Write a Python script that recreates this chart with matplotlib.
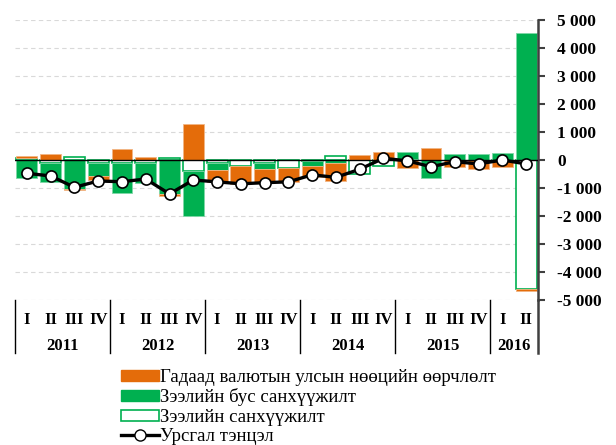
import matplotlib
matplotlib.use('Agg')
import matplotlib.pyplot as plt
from matplotlib.patches import Patch
from matplotlib.lines import Line2D
import numpy as np

plt.rcParams['font.family'] = ['Liberation Serif', 'DejaVu Serif']

# quarterly data, 2011 Q1 - 2016 Q2 (mln. USD)
quarters = ['I', 'II', 'III', 'IV'] * 5 + ['I', 'II']
years = ['2011', '2012', '2013', '2014', '2015', '2016']
year_len = [4, 4, 4, 4, 4, 2]

loan_fin = [60, -90, 95, -120, -100, -100, 60, -390,
            -90, -200, -90, -300, -20, 140, -500, -230,
            30, 0, 0, 0, -20, -4620]
nonloan_fin = [-640, -690, -1050, -450, -1070, -720, -1230, -1610,
               -250, 0, -230, 0, -180, -120, 0, 0,
               270, -655, 215, 200, 260, 4520]
reserve_chg = [70, 200, -25, -150, 380, 120, -50, 1275,
               -450, -640, -500, -500, -400, -630, 180, 300,
               -300, 420, -260, -330, -230, -50]
balance = [-475, -570, -975, -750, -775, -680, -1210, -715,
           -780, -850, -810, -780, -530, -620, -330, 60,
           -30, -240, -60, -140, 0, -140]

yticks = [5000, 4000, 3000, 2000, 1000, 0, -1000, -2000, -3000, -4000, -5000]
ytick_labels = ['5 000', '4 000', '3 000', '2 000', '1 000', '0',
                '-1 000', '-2 000', '-3 000', '-4 000', '-5 000']

labels = ['Гадаад валютын улсын нөөцийн өөрчлөлт', 'Зээлийн бус санхүүжилт',
          'Зээлийн санхүүжилт', 'Урсгал тэнцэл']

orange = '#e46c0a'
green = '#00b050'

fig = plt.figure(figsize=(6.16, 4.45), dpi=100)
ax = fig.add_axes([15 / 616, 1 - 300 / 445, 523 / 616, 280 / 445])

x = np.arange(len(quarters))
w = 0.88

# stacked bars: positives go up, negatives go down, in series order
pos = np.zeros(len(x))
neg = np.zeros(len(x))
series = [(loan_fin, 'white', green, 1.2),
          (nonloan_fin, green, '#7fd7a7', 0.6),
          (reserve_chg, orange, '#f2b584', 0.6)]
for vals, fc, ec, lw in series:
    v = np.array(vals, dtype=float)
    bottom = np.where(v >= 0, pos, neg)
    ax.bar(x, v, w, bottom=bottom, color=fc, edgecolor=ec, linewidth=lw, zorder=2)
    pos = pos + np.where(v >= 0, v, 0)
    neg = neg + np.where(v < 0, v, 0)

ax.axhline(0, color='black', linewidth=1, zorder=3)
ax.plot(x, balance, color='black', linewidth=2.4, marker='o', markersize=8,
        markerfacecolor='white', markeredgecolor='black', markeredgewidth=1.2, zorder=4)

ax.set_xlim(-0.5, len(x) - 0.5)
ax.set_ylim(-5000, 5000)
ax.set_yticks(yticks)
ax.set_yticklabels(ytick_labels, fontsize=12.5, fontweight='bold')
ax.yaxis.tick_right()
ax.tick_params(axis='y', direction='out', length=5, width=1.5, color='#404040', pad=9)
ax.set_xticks([])
ax.grid(axis='y', color='#d9d9d9', linestyle=(0, (4, 3)), linewidth=0.8, zorder=0)
ax.set_axisbelow(True)
for s in ['top', 'bottom', 'left']:
    ax.spines[s].set_visible(False)
ax.spines['right'].set_color('#404040')
ax.spines['right'].set_linewidth(1.8)
ax.spines['right'].set_bounds(-5000, 5000)

# category axis below the plot
trans = ax.get_xaxis_transform()
for i, q in enumerate(quarters):
    ax.text(x[i], -0.07, q, transform=trans, ha='center', va='center',
            fontsize=12, fontweight='bold')
start = 0
ax.plot([-0.5, -0.5], [0, -0.19], transform=trans, color='black', lw=1, clip_on=False)
for yr, n in zip(years, year_len):
    ax.text(start + n / 2 - 0.5, -0.163, yr, transform=trans, ha='center', va='center',
            fontsize=12, fontweight='bold')
    start += n
    xe = start - 0.5
    if start == len(x):
        ax.plot([xe, xe], [0, -0.19], transform=trans, color='#404040', lw=1.8, clip_on=False)
    else:
        ax.plot([xe, xe], [0, -0.19], transform=trans, color='black', lw=1, clip_on=False)

handles = [Patch(facecolor=orange, edgecolor=orange),
           Patch(facecolor=green, edgecolor=green),
           Patch(facecolor='white', edgecolor=green, linewidth=1.2),
           Line2D([], [], color='black', linewidth=2.4, marker='o', markersize=8,
                  markerfacecolor='white', markeredgecolor='black')]
fig.legend(handles, labels, loc='upper left', bbox_to_anchor=(121 / 616, 1 - 369 / 445),
           frameon=False, fontsize=13.5, handlelength=2.0, handleheight=0.55,
           handletextpad=0.1, labelspacing=0.13, borderaxespad=0, borderpad=0)

fig.savefig('out.png', dpi=100)
